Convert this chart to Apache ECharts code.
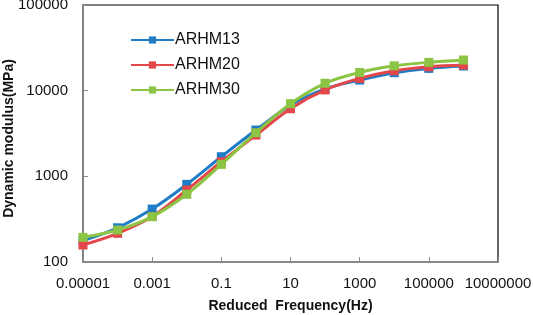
<!DOCTYPE html>
<html>
<head>
<meta charset="utf-8">
<script src="https://cdn.jsdelivr.net/npm/echarts@6/dist/echarts.min.js"></script>
<style>
    html, body { margin: 0; padding: 0; background: #fff; }
    #modulus_chart { width: 533px; height: 315px; }
</style>
</head>
<body>
<div id="modulus_chart"></div>
<script>
    // reduced frequency (Hz), one point per decade
    var frequencies = [0.00001, 0.0001, 0.001, 0.01, 0.1, 1, 10, 100, 1000, 10000, 100000, 1000000];
    var seriesNames = ['ARHM13', 'ARHM20', 'ARHM30'];
    var arhm13 = [178, 251, 415, 806, 1694, 3470, 6760, 10500, 13300, 16200, 18200, 19400];
    var arhm20 = [158, 216, 340, 692, 1480, 3030, 6150, 10200, 13900, 17100, 19000, 19900];
    var arhm30 = [194, 236, 338, 617, 1380, 3230, 7050, 12200, 16300, 19500, 21400, 22800];
    var xTickLabels = ['0.00001', '0.001', '0.1', '10', '1000', '100000', '10000000'];
    var yTickLabels = ['100', '1000', '10000', '100000'];

    var colorList = ['#1f7cc6', '#e4474a', '#8cc443'];

    function pairs(values) {
        return frequencies.map(function (f, i) { return [f, values[i]]; });
    }

    function tickText(value, labels) {
        var exp = Math.round(Math.log10(value));
        for (var i = 0; i < labels.length; i++) {
            if (Math.round(Math.log10(parseFloat(labels[i]))) === exp) return labels[i];
        }
        return '';
    }

    function makeSeries(name, values, idx) {
        return {
            name: name,
            type: 'line',
            smooth: 0.35,
            symbol: 'rect',
            symbolSize: 9,
            data: pairs(values),
            lineStyle: { width: 3, color: colorList[idx] },
            itemStyle: { color: colorList[idx] },
            z: 2 + idx
        };
    }

    var axisGray = '#8c8c8c';
    var chart = echarts.init(document.getElementById('modulus_chart'), null, { renderer: 'canvas' });
    var option = {
        animation: false,
        textStyle: { fontFamily: 'Liberation Sans, Arial, sans-serif' },
        grid: {
            left: 83, right: 35, top: 5, bottom: 53,
            containLabel: false,
            outerBoundsMode: 'none',
            show: true, borderColor: '#000', borderWidth: 1.2, backgroundColor: 'transparent'
        },
        legend: {
            orient: 'vertical',
            left: 125,
            top: 27,
            itemWidth: 43,
            itemHeight: 9,
            itemGap: 9,
            textStyle: { color: '#111', fontSize: 16, padding: [0, 0, 0, -4] },
            data: seriesNames
        },
        xAxis: {
            type: 'log',
            logBase: 10,
            min: 0.00001,
            max: 10000000,
            interval: 2,
            name: 'Reduced  Frequency(Hz)',
            nameLocation: 'middle',
            nameGap: 37,
            nameMoveOverlap: false,
            nameTextStyle: { fontSize: 14, fontWeight: 'bold', color: '#111' },
            axisLine: { lineStyle: { color: axisGray, width: 1.5 } },
            axisTick: { inside: true, length: 5, lineStyle: { color: axisGray } },
            axisLabel: {
                fontSize: 15, color: '#111', margin: 14,
                formatter: function (v) { return tickText(v, xTickLabels); }
            },
            splitLine: { show: false },
            minorTick: { show: false }
        },
        yAxis: {
            type: 'log',
            logBase: 10,
            min: 100,
            max: 100000,
            interval: 1,
            name: 'Dynamic modulus(MPa)',
            nameLocation: 'middle',
            nameGap: 67,
            nameMoveOverlap: false,
            nameTextStyle: { fontSize: 14, fontWeight: 'bold', color: '#111', padding: [0, 10, 0, 0] },
            axisLine: { show: true, lineStyle: { color: axisGray, width: 1.5 } },
            axisTick: { show: true, inside: true, length: 5, lineStyle: { color: axisGray } },
            axisLabel: {
                fontSize: 15, color: '#111', margin: 15,
                formatter: function (v) { return tickText(v, yTickLabels); }
            },
            splitLine: { show: false },
            minorTick: { show: false }
        },
        series: [
            makeSeries(seriesNames[0], arhm13, 0),
            makeSeries(seriesNames[1], arhm20, 1),
            makeSeries(seriesNames[2], arhm30, 2)
        ]
    };
    chart.setOption(option);
</script>
</body>
</html>
